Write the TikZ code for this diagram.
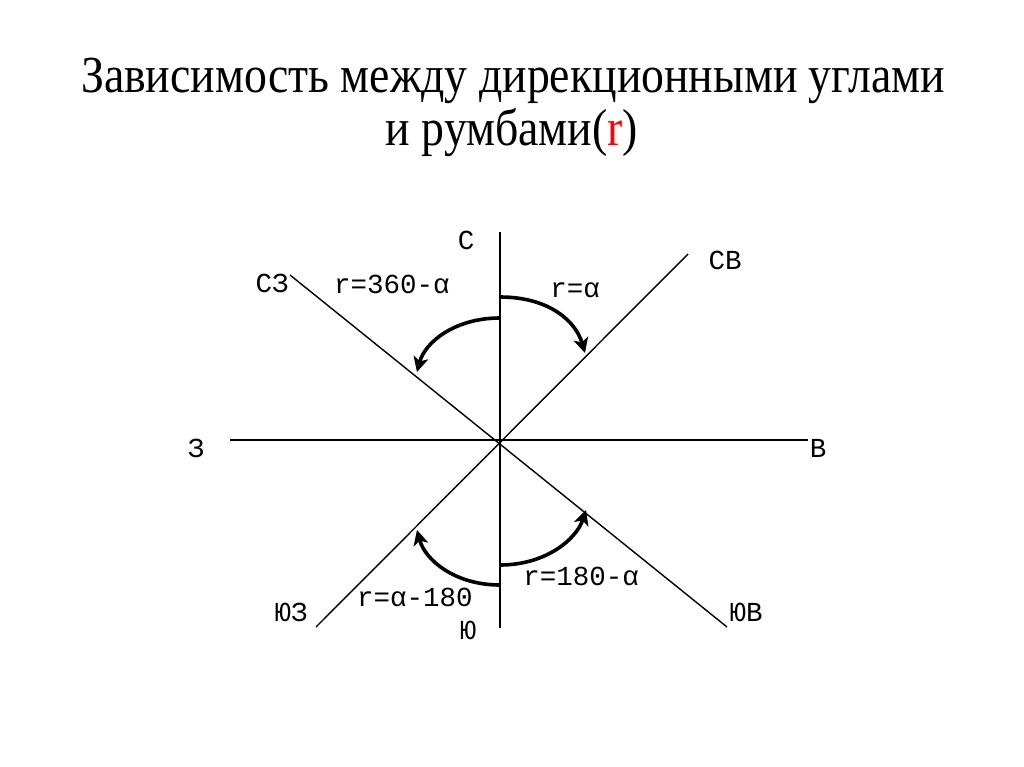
\documentclass[tikz,border=0pt]{standalone}
\usepackage{fontspec}
\setmainfont{Liberation Serif}
\newfontfamily\dirfont{Liberation Mono}
\usetikzlibrary{arrows.meta}

\begin{document}
\begin{tikzpicture}[x=1pt, y=-1pt,
        axis/.style={line width=2.4pt},
        diag/.style={line width=1.4pt},
        turn/.style={line width=3.6pt, -{Stealth[length=15pt, width=15pt, inset=4pt]}},
        dirlabel/.style={font=\dirfont\fontsize{27.5}{28}\selectfont, inner sep=0pt},
        titleline/.style={font=\fontsize{52}{56}\selectfont, inner sep=0pt, anchor=base}]
        \useasboundingbox[fill=white] (0,0) rectangle (1024,767);

        % Title
        \node[titleline] (title1) at (513,93) {\scalebox{0.88}[1]{Зависимость между дирекционными углами}};
        \node[titleline] (title2) at (512,146) {\scalebox{0.88}[1]{и румбами(\textcolor{red}{r})}};

        % Cardinal points
        \coordinate (O) at (500,440);
        \coordinate (N) at (500,232);
        \coordinate (S) at (500,628);
        \coordinate (W) at (230,440);
        \coordinate (E) at (808,440);
        \coordinate (NE) at (688,254);
        \coordinate (NW) at (290,275);
        \coordinate (SW) at (316,627);
        \coordinate (SE) at (727,627);

        % Axes
        \draw[axis] (N) -- (S);
        \draw[axis] (W) -- (E);
        \draw[diag] (NW) -- (SE);
        \draw[diag] (SW) -- (NE);

        % Direction names
        \node[dirlabel] (lblN) at (466,240) {С};
        \node[dirlabel] (lblS) at (468,630) {Ю};
        \node[dirlabel] (lblW) at (196,448) {З};
        \node[dirlabel] (lblE) at (818,448) {В};
        \node[dirlabel] (lblNE) at (725,260) {СВ};
        \node[dirlabel] (lblNW) at (272,283) {СЗ};
        \node[dirlabel] (lblSW) at (291,612) {ЮЗ};
        \node[dirlabel] (lblSE) at (746,612) {ЮВ};

        % Rhumbs
        \coordinate (startNE) at (500,297);
        \coordinate (tipNE) at (585,353);
        \coordinate (startNW) at (500,318);
        \coordinate (tipNW) at (417,372);
        \coordinate (startSE) at (500,565);
        \coordinate (tipSE) at (586,510);
        \coordinate (startSW) at (500,585);
        \coordinate (tipSW) at (417,530);

        \draw[turn] (startNE) .. controls (550,297) and (576,322) .. (tipNE);
        \draw[turn] (startNW) .. controls (455,318) and (425,342) .. (tipNW);
        \draw[turn] (startSE) .. controls (545,565) and (576,540) .. (tipSE);
        \draw[turn] (startSW) .. controls (455,585) and (425,560) .. (tipSW);

        \node[dirlabel] (rNE) at (575,290) {r=α};
        \node[dirlabel] (rNW) at (392,284) {r=360-α};
        \node[dirlabel] (rSE) at (581,576) {r=180-α};
        \node[dirlabel] (rSW) at (415,597) {r=α-180};
    \end{tikzpicture}
\end{document}
